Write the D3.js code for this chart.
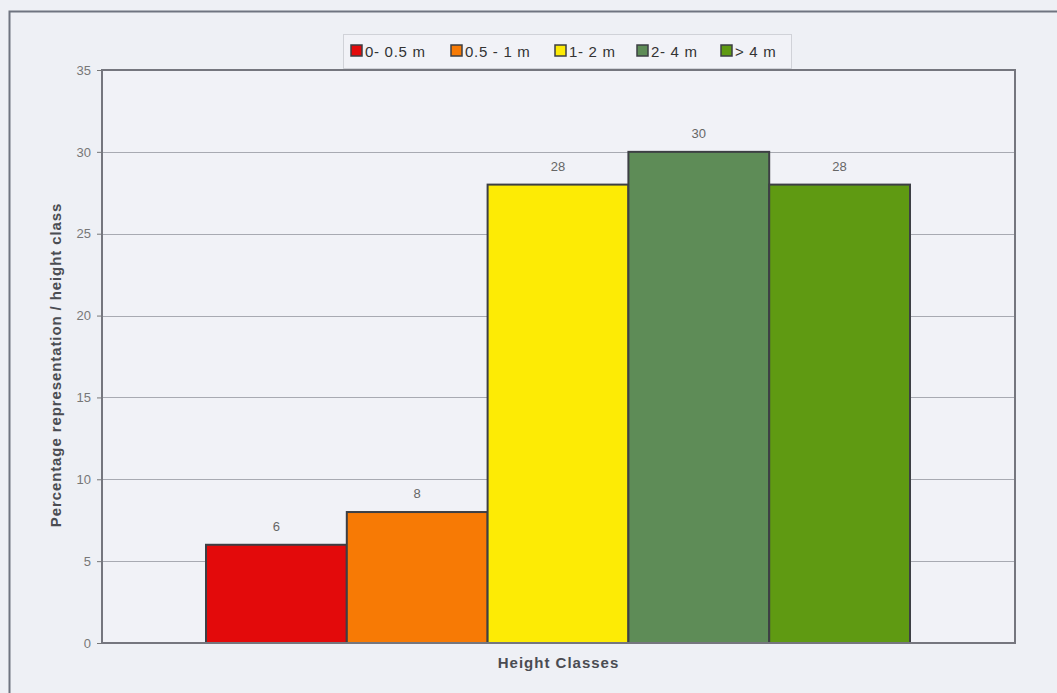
<!DOCTYPE html>
<html><head><meta charset="utf-8">
<script src="https://cdn.jsdelivr.net/npm/d3@7"></script>
<style>
html,body{margin:0;padding:0;background:#eef0f5;}
svg{display:block;}
text{font-family:"Liberation Sans",Arial,sans-serif;}
</style></head>
<body>
<svg id="chart" width="1057" height="693"></svg>
<script>
const seriesNames = ["0- 0.5 m", "0.5 - 1 m", "1- 2 m", "2- 4 m", "> 4 m"];
const seriesValues = [6, 8, 28, 30, 28];
const seriesColors = ["#e30a0b", "#f77a05", "#fdeb05", "#5e8c57", "#5f9a12"];
const yTicks = [0, 5, 10, 15, 20, 25, 30, 35];
const xTitle = "Height Classes";
const yTitle = "Percentage representation / height class";

const svg = d3.select("#chart");
const W = 1057, H = 693;
const m = {left: 102, right: 1015, top: 70, bottom: 643};

svg.append("rect").attr("x", 0).attr("y", 0).attr("width", W).attr("height", H).attr("fill", "#eef0f5");
svg.append("path").attr("d", `M9.5,${H} V11.5 H${W}`).attr("fill", "none").attr("stroke", "#6f7480").attr("stroke-width", 2);

const y = d3.scaleLinear().domain([0, 35]).range([m.bottom, m.top]);
const x = d3.scaleBand().domain(seriesNames).range([206, 910]).padding(0);

svg.append("rect").attr("x", m.left).attr("y", m.top).attr("width", m.right - m.left).attr("height", m.bottom - m.top)
  .attr("fill", "#f1f2f7");

svg.append("g").selectAll("line").data(yTicks.filter(d => d > 0 && d < 35)).join("line")
  .attr("x1", m.left).attr("x2", m.right)
  .attr("y1", d => Math.round(y(d)) + 0.5).attr("y2", d => Math.round(y(d)) + 0.5)
  .attr("stroke", "#a8aab2").attr("stroke-width", 1);

const yAxis = d3.axisLeft(y).tickValues(yTicks).tickSize(5).tickPadding(6);
const ga = svg.append("g").attr("transform", `translate(${m.left},0)`).call(yAxis);
ga.select(".domain").remove();
ga.selectAll(".tick line").attr("stroke", "#777");
ga.selectAll(".tick text").attr("fill", "#777").attr("font-size", 13).attr("font-family", "Liberation Sans, Arial, sans-serif");

svg.append("g").selectAll("rect").data(seriesNames).join("rect")
  .attr("x", d => x(d)).attr("width", x.bandwidth())
  .attr("y", (d, i) => y(seriesValues[i]))
  .attr("height", (d, i) => y(0) - y(seriesValues[i]))
  .attr("fill", (d, i) => seriesColors[i])
  .attr("stroke", "#3d3f44").attr("stroke-width", 2);

svg.append("g").selectAll("text").data(seriesNames).join("text")
  .attr("x", d => x(d) + x.bandwidth() / 2)
  .attr("y", (d, i) => y(seriesValues[i]) - 14)
  .attr("text-anchor", "middle").attr("font-size", 13).attr("fill", "#666")
  .text((d, i) => seriesValues[i]);

svg.append("rect").attr("x", m.left).attr("y", m.top).attr("width", m.right - m.left).attr("height", m.bottom - m.top)
  .attr("fill", "none").attr("stroke", "#75767e").attr("stroke-width", 2);

svg.append("text").attr("x", (m.left + m.right) / 2).attr("y", 668)
  .attr("text-anchor", "middle").attr("font-size", 15).attr("letter-spacing", 1).attr("font-weight", "bold").attr("fill", "#4a4c52")
  .text(xTitle);
svg.append("text").attr("transform", `translate(61,${365}) rotate(-90)`)
  .attr("text-anchor", "middle").attr("font-size", 15).attr("letter-spacing", 0.9).attr("font-weight", "bold").attr("fill", "#4a4c52")
  .text(yTitle);

const lg = svg.append("g");
lg.append("rect").attr("x", 343.5).attr("y", 34.5).attr("width", 448).attr("height", 34)
  .attr("fill", "#f1f2f7").attr("stroke", "#d0d2d8");
const legX = [351, 451, 555, 637, 721];
const items = lg.selectAll("g.it").data(seriesNames).join("g").attr("class", "it")
  .attr("transform", (d, i) => `translate(${legX[i]},0)`);
items.append("rect").attr("x", 0).attr("y", 45).attr("width", 11).attr("height", 11)
  .attr("fill", (d, i) => seriesColors[i]).attr("stroke", "#3d3f44").attr("stroke-width", 1.5);
items.append("text").attr("x", 14).attr("y", 57).attr("font-size", 15).attr("letter-spacing", 0.7).attr("fill", "#333")
  .text(d => d);
</script>
</body></html>
